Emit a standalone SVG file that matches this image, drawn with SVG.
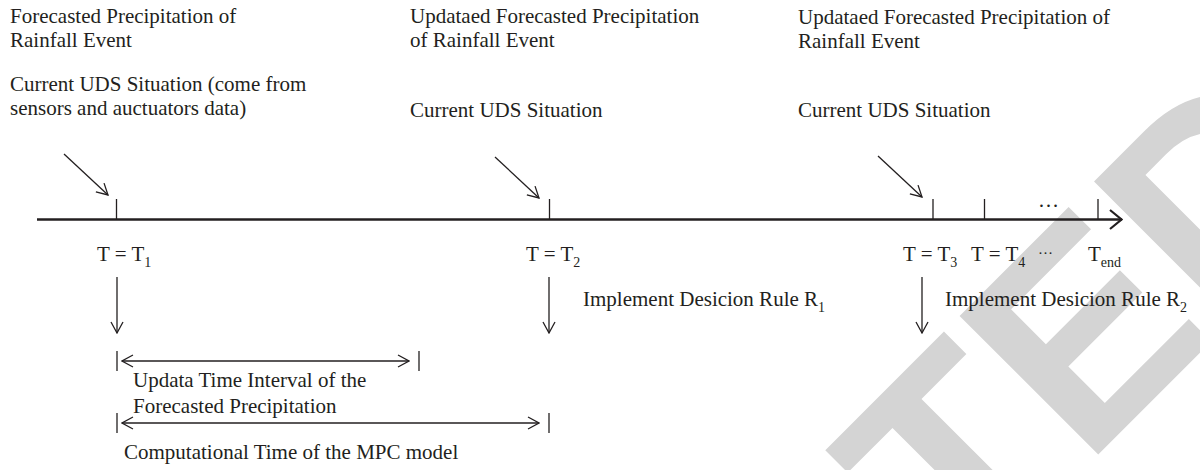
<svg xmlns="http://www.w3.org/2000/svg" width="1200" height="470" viewBox="0 0 1200 470">
<style>
  .t { font-family: "Liberation Serif", "Times New Roman", serif; font-size: 21px; fill: #231f20; }
  .sub { font-size: 14px; }
  .ln { stroke: #231f20; stroke-width: 1.3; fill: none; }
  .axis { stroke: #231f20; stroke-width: 2.4; fill: none; }
  .wm { font-family: "Liberation Sans", Arial, sans-serif; font-weight: bold; font-size: 285px; fill: #d4d4d4; }
</style>
<defs>
  <marker id="ah" markerUnits="userSpaceOnUse" viewBox="0 0 13 14" refX="12" refY="7" markerWidth="13" markerHeight="14" orient="auto-start-reverse">
    <path d="M1,1 L12,7 L1,13" fill="none" stroke="#231f20" stroke-width="1.3"/>
  </marker>
  <marker id="ahBig" markerUnits="userSpaceOnUse" viewBox="0 0 14 22" refX="13" refY="11" markerWidth="14" markerHeight="22" orient="auto">
    <path d="M1,1.5 L12.5,11 L1,20.5" fill="none" stroke="#231f20" stroke-width="2.2"/>
  </marker>
</defs>
<rect width="1200" height="470" fill="#ffffff"/>
<text class="wm" transform="rotate(-45)" x="832" y="1098" text-anchor="end">RETRACTED</text>

<g id="connectors">
  <line class="axis" x1="37" y1="219.5" x2="1122" y2="219.5" marker-end="url(#ahBig)"/>
  <line class="ln" x1="116.5" y1="199" x2="116.5" y2="219"/>
  <line class="ln" x1="549.5" y1="199" x2="549.5" y2="219"/>
  <line class="ln" x1="933" y1="199" x2="933" y2="219"/>
  <line class="ln" x1="984.5" y1="199" x2="984.5" y2="219"/>
  <line class="ln" x1="1098" y1="199" x2="1098" y2="219"/>
  <line class="ln" x1="64" y1="154" x2="108" y2="195" marker-end="url(#ah)"/>
  <line class="ln" x1="495" y1="157" x2="539" y2="198" marker-end="url(#ah)"/>
  <line class="ln" x1="878" y1="156" x2="922" y2="197" marker-end="url(#ah)"/>
  <line class="ln" x1="117" y1="277" x2="117" y2="333" marker-end="url(#ah)"/>
  <line class="ln" x1="549" y1="277" x2="549" y2="333" marker-end="url(#ah)"/>
  <line class="ln" x1="922" y1="277" x2="922" y2="333" marker-end="url(#ah)"/>
  <line class="ln" x1="117" y1="351" x2="117" y2="371"/>
  <line class="ln" x1="419" y1="351" x2="419" y2="371"/>
  <line class="ln" x1="122" y1="361" x2="409" y2="361" marker-start="url(#ah)" marker-end="url(#ah)"/>
  <line class="ln" x1="117" y1="413" x2="117" y2="433"/>
  <line class="ln" x1="549" y1="413" x2="549" y2="433"/>
  <line class="ln" x1="122" y1="423" x2="539" y2="423" marker-start="url(#ah)" marker-end="url(#ah)"/>
</g>

<g id="input1">
  <text class="t" x="10" y="23">Forecasted Precipitation of</text>
  <text class="t" x="10" y="47">Rainfall Event</text>
  <text class="t" x="10" y="91">Current UDS Situation (come from</text>
  <text class="t" x="10" y="115">sensors and auctuators data)</text>
</g>
<g id="input2">
  <text class="t" x="410" y="23">Updataed Forecasted Precipitation</text>
  <text class="t" x="410" y="47">of Rainfall Event</text>
  <text class="t" x="410" y="117">Current UDS Situation</text>
</g>
<g id="input3">
  <text class="t" x="798" y="24">Updataed Forecasted Precipitation of</text>
  <text class="t" x="798" y="48">Rainfall Event</text>
  <text class="t" x="798" y="117">Current UDS Situation</text>
</g>

<g id="axis-dots"><text class="t" x="1038" y="207" font-size="15">…</text></g>
<g id="t1"><text class="t" x="97" y="261">T = T<tspan class="sub" dy="6">1</tspan></text></g>
<g id="t2"><text class="t" x="526" y="261">T = T<tspan class="sub" dy="6">2</tspan></text></g>
<g id="t3"><text class="t" x="903" y="261">T = T<tspan class="sub" dy="6">3</tspan></text></g>
<g id="t4"><text class="t" x="971" y="261">T = T<tspan class="sub" dy="6">4</tspan></text></g>
<g id="tdots"><text class="t" x="1038" y="254" style="font-size:15px">…</text></g>
<g id="tend"><text class="t" x="1088" y="261">T<tspan class="sub" dy="6">end</tspan></text></g>

<g id="rule1"><text class="t" x="583" y="306">Implement Desicion Rule R<tspan class="sub" dy="6">1</tspan></text></g>
<g id="rule2"><text class="t" x="945" y="306">Implement Desicion Rule R<tspan class="sub" dy="6">2</tspan></text></g>

<g id="interval-forecast">
  <text class="t" x="133" y="387">Updata Time Interval of the</text>
  <text class="t" x="133" y="413">Forecasted Precipitation</text>
</g>
<g id="interval-mpc">
  <text class="t" x="124" y="459">Computational Time of the MPC model</text>
</g>
</svg>
